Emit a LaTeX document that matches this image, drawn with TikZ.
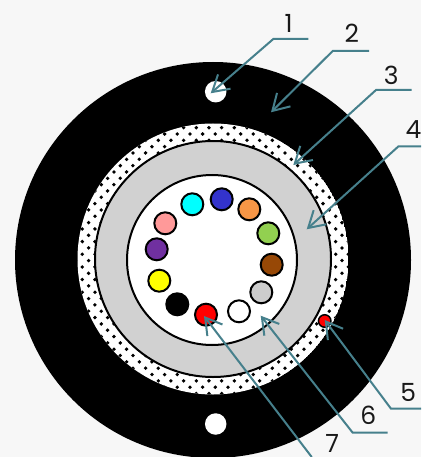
\documentclass[tikz,border=0pt]{standalone}
\usepackage{xcolor}
\usepackage{fontspec}
\setmainfont{Poppins}
\usetikzlibrary{arrows.meta}
\definecolor{leader}{HTML}{46808C}
\begin{document}
\begin{tikzpicture}[
  x=1pt, y=-1pt,
  fibre/.style={draw,circle,line width=2pt,minimum size=22pt,inner sep=0pt},
  hole/.style={circle,fill=white,minimum size=21.5pt,inner sep=0pt},
  num/.style={font=\fontsize{25}{25}\selectfont,text=black!90,inner sep=0pt},
  lead/.style={draw=leader,line width=2pt,{Straight Barb[length=16pt,width=19pt,line width=2pt]}-}
]
\useasboundingbox (0,0) rectangle (421,457);
\fill[black!3] (0,0) rectangle (421,457);
% sheath and dotted band
\node[circle,fill=black,minimum size=396pt,inner sep=0pt] (sheath) at (213,260) {};
\begin{scope}
\clip (213,259) circle (135.5);
\fill[white] (213,259) circle (135.5);
\foreach \i in {0,...,44}{
  \foreach \j in {-11,...,11}{
    \fill ({215.3+12.67*(\j+0.5*mod(\i,2))},{121.33+6.33*\i}) circle (1.9);
  }
}
\end{scope}
\node[circle,draw,line width=2pt,fill=black!18,minimum size=236pt,inner sep=0pt] (gel) at (213,259) {};
\node[circle,draw,line width=2pt,fill=white,minimum size=170pt,inner sep=0pt] (tube) at (212,260) {};
% holes and small wire
\node[hole] (holeA) at (215.7,91.7) {};
\node[hole] (holeB) at (215.7,424) {};
\node[circle,draw,fill=red,line width=1.5pt,minimum size=12.5pt,inner sep=0pt] (wire) at (324.7,321) {};
% fibres
\node[fibre,fill={rgb,255:red,51;green,51;blue,204}] (blue) at (221.7,199.3) {};
\node[fibre,fill={rgb,255:red,247;green,150;blue,70}] (orange) at (249.3,209.3) {};
\node[fibre,fill={rgb,255:red,146;green,208;blue,80}] (green) at (268.3,233.3) {};
\node[fibre,fill={rgb,255:red,151;green,72;blue,6}] (brown) at (271.7,264.7) {};
\node[fibre,fill=black!20] (grey) at (261.3,292.3) {};
\node[fibre,fill=white] (white) at (239,311.3) {};
\node[fibre,fill=red] (red) at (206,314.7) {};
\node[fibre,fill=black] (black) at (177.3,304.3) {};
\node[fibre,fill={rgb,255:red,255;green,255;blue,0}] (yellow) at (159.3,280.7) {};
\node[fibre,fill={rgb,255:red,112;green,48;blue,160}] (purple) at (156.7,249.3) {};
\node[fibre,fill={rgb,255:red,255;green,153;blue,153}] (pink) at (165.3,223.3) {};
\node[fibre,fill={rgb,255:red,0;green,255;blue,255}] (cyan) at (192.3,204.3) {};
% labels
\node[num] (n1) at (288.7,23) {1};
\node[num] (n2) at (351.7,33) {2};
\node[num] (n3) at (391.3,75) {3};
\node[num] (n4) at (413.5,130) {4};
\node[num] (n5) at (408.3,392) {5};
\node[num] (n6) at (368.3,415) {6};
\node[num] (n7) at (332.3,443) {7};
% leader ends
\coordinate (tip1) at (210.7,93.3);
\coordinate (tip2) at (271,112.3);
\coordinate (tip3) at (293.3,165);
\coordinate (tip4) at (306.7,229.3);
\coordinate (tip5) at (324.7,320);
\coordinate (tip6) at (260.7,315.7);
\coordinate (tip7) at (204,316);
\coordinate (end1) at (308.3,39);
\coordinate (end2) at (369,51);
\coordinate (end3) at (411.7,90);
\coordinate (end4) at (421,146.5);
\coordinate (end5) at (421,408.7);
\coordinate (end6) at (387.7,432.7);
\coordinate (end7) at (311.7,457);
% leaders
\draw[lead] (tip1) -- (273.3,39) -- (end1);
\draw[lead] (tip2) -- (332.7,51) -- (end2);
\draw[lead] (tip3) -- (376,90) -- (end3);
\draw[lead] (tip4) -- (398.3,146.5) -- (end4);
\draw[lead] (tip5) -- (391,408.7) -- (end5);
\draw[lead] (tip6) -- (352.7,432.7) -- (end6);
\draw[lead] (tip7) -- (end7);
\end{tikzpicture}
\end{document}
